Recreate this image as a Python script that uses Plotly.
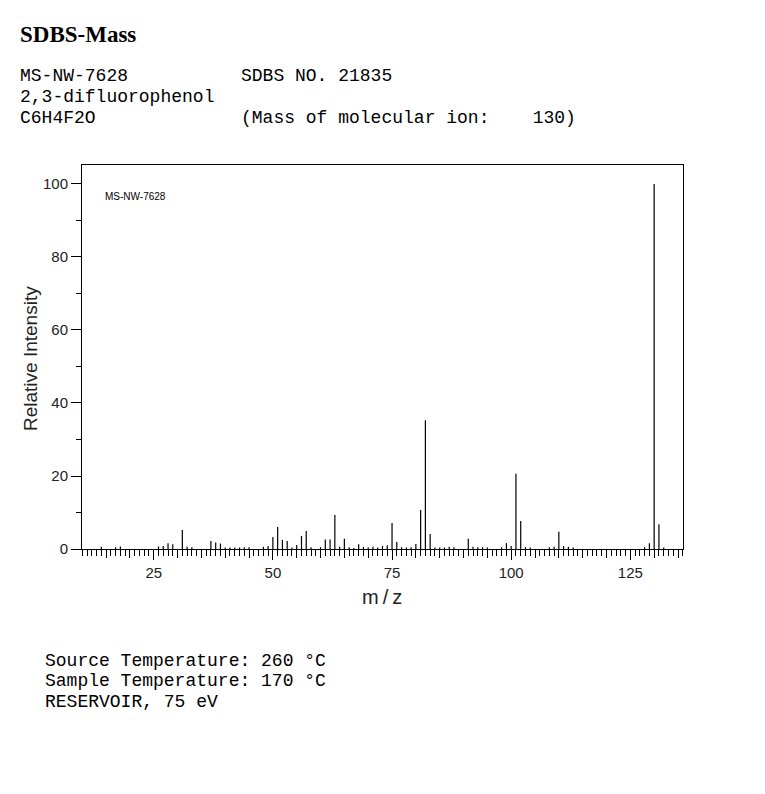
import plotly.graph_objects as go

# ---- data ----
mz = [14, 17, 18, 26, 27, 28, 29, 31, 32, 33, 37, 38, 39, 40, 41, 42, 43, 44, 45,
      48, 49, 50, 51, 52, 53, 54, 55, 56, 57, 58, 60, 61, 62, 63, 64, 65, 66, 67,
      68, 69, 70, 71, 72, 73, 74, 75, 76, 77, 78, 79, 80, 81, 82, 83, 84, 85, 86,
      87, 88, 91, 92, 93, 94, 95, 98, 99, 100, 101, 102, 103, 104, 108, 109, 110,
      111, 112, 113, 128, 129, 130, 131, 132]
intensity = [0.6, 0.5, 0.7, 0.7, 0.8, 1.6, 1.3, 5.2, 0.6, 0.5, 2.2, 1.8, 1.5, 0.4, 0.4, 0.4, 0.4, 0.5, 0.5,
             0.6, 0.8, 3.3, 6.0, 2.5, 2.2, 0.4, 1.1, 3.6, 4.9, 0.5, 0.5, 2.6, 2.6, 9.3, 0.6, 2.8, 0.5, 0.3,
             1.3, 0.6, 0.5, 0.6, 0.4, 0.8, 1.0, 7.1, 1.9, 0.5, 0.4, 0.5, 1.4, 10.7, 35.3, 4.1, 0.4, 0.4, 0.4,
             0.6, 0.5, 2.8, 0.6, 0.5, 0.5, 0.4, 0.5, 1.6, 0.8, 20.6, 7.7, 0.5, 0.4, 0.5, 0.6, 4.7,
             0.8, 0.6, 0.4, 0.5, 1.6, 100.0, 6.8, 0.4]

x_major_ticks = [25, 50, 75, 100, 125]
x_mid_ticks = [15, 20, 30, 35, 40, 45, 55, 60, 65, 70, 80, 85, 90, 95, 105, 110, 115, 120, 130, 135]
y_major_ticks = [0, 20, 40, 60, 80, 100]

header_lines = [
    ("SDBS-Mass", 18, 35, "serif_bold"),
    ("MS-NW-7628", 18, 76, "mono"),
    ("SDBS NO. 21835", 239, 76, "mono"),
    ("2,3-difluorophenol", 18, 97, "mono"),
    ("C6H4F2O", 18, 118, "mono"),
    ("(Mass of molecular ion:    130)", 239, 118, "mono"),
    ("Source Temperature: 260 °C", 43, 661, "mono"),
    ("Sample Temperature: 170 °C", 43, 681, "mono"),
    ("RESERVOIR, 75 eV", 43, 702, "mono"),
]

# ---- figure geometry (page body has an 8px margin) ----
OX, OY = 8, 8
W, H = 749, 778
L, T = 74, 157
R = W - 675
B = H - 541
PW, PH = W - L - R, H - T - B


def px(xp):
    return (xp - OX - L) / PW


def py(yp):
    return (H - B - (yp - OY)) / PH


xs, ys = [], []
for m, v in zip(mz, intensity):
    xs += [m, m, None]
    ys += [0, v, None]

fig = go.Figure()
fig.add_trace(go.Scatter(x=xs, y=ys, mode="lines",
                         line=dict(color="black", width=1.2),
                         hoverinfo="skip", showlegend=False))
fig.add_trace(go.Scatter(x=[None], y=[None], xaxis="x2", yaxis="y",
                         showlegend=False, hoverinfo="skip"))

XR = [9.95, 136.05]
tick_font = dict(family="Liberation Sans", size=15, color="#222")
fig.update_layout(
    width=W, height=H,
    margin=dict(l=L, r=R, t=T, b=B),
    paper_bgcolor="white", plot_bgcolor="white",
    xaxis=dict(range=XR, showgrid=False, zeroline=False,
               showline=True, linecolor="black", linewidth=1, mirror=True,
               tickmode="array", tickvals=x_major_ticks,
               ticks="outside", ticklen=10, tickcolor="black", tickwidth=1,
               tickfont=tick_font,
               minor=dict(dtick=1, tick0=0, ticks="outside", ticklen=6,
                          tickcolor="black", tickwidth=1)),
    xaxis2=dict(range=XR, overlaying="x", anchor="y", side="bottom",
                showgrid=False, zeroline=False, showline=False,
                tickmode="array", tickvals=x_mid_ticks, showticklabels=False,
                ticks="outside", ticklen=8, tickcolor="black", tickwidth=1),
    yaxis=dict(range=[0, 105.2], showgrid=False, zeroline=False,
               showline=True, linecolor="black", linewidth=1, mirror=True,
               tickmode="array", tickvals=y_major_ticks,
               ticks="outside", ticklen=10, tickcolor="black", tickwidth=1,
               tickfont=tick_font,
               minor=dict(dtick=10, tick0=0, ticks="outside", ticklen=5,
                          tickcolor="black", tickwidth=1)),
)

annotations = []
for text, xl, yc, style in header_lines:
    if style == "serif_bold":
        font = dict(family="Liberation Serif", size=23, color="black")
        text = "<b>" + text + "</b>"
    else:
        font = dict(family="Liberation Mono", size=18, color="black")
    annotations.append(dict(text=text.replace(" ", "\u00a0"), xref="paper", yref="paper",
                            x=px(xl), y=py(yc), xanchor="left", yanchor="middle",
                            showarrow=False, font=font))

annotations.append(dict(text="MS-NW-7628", xref="paper", yref="paper",
                        x=px(103), y=py(196), xanchor="left", yanchor="middle",
                        showarrow=False,
                        font=dict(family="Liberation Sans", size=10, color="black")))
annotations.append(dict(text="m\u2009/\u2009z", xref="paper", yref="paper",
                        x=px(382), y=py(597), xanchor="center", yanchor="middle",
                        showarrow=False,
                        font=dict(family="Liberation Sans", size=20, color="#222")))
annotations.append(dict(text="Relative Intensity", xref="paper", yref="paper",
                        x=px(30), y=py(358), xanchor="center", yanchor="middle",
                        textangle=-90, showarrow=False,
                        font=dict(family="Liberation Sans", size=19, color="#222")))
fig.update_layout(annotations=annotations)

fig.write_html("out.html")
